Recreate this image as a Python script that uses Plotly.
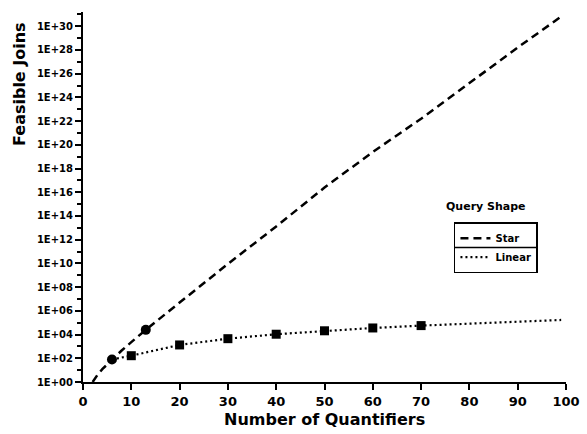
import plotly.graph_objects as go

# Star query shape: curve values
star_x = [2, 3, 4, 6, 8, 10, 13, 20, 30, 40, 50, 60, 70, 80, 90, 99]
star_y = [1, 4, 12, 80, 450, 2300, 2.5e4, 5.0e6, 9.0e9, 1.3e13, 2.5e16, 2.5e19,
          1.6e22, 1.6e25, 1.6e28, 6.5e30]
star_mx = [6, 13]
star_my = [80, 2.5e4]

# Linear query shape
lin_x = [6, 10, 20, 30, 40, 50, 60, 70, 80, 90, 99]
lin_y = [80, 165, 1330, 4500, 10700, 20800, 36000, 57000, 85000, 121000, 170000]
lin_mx = [10, 20, 30, 40, 50, 60, 70]
lin_my = [165, 1330, 4500, 10700, 20800, 36000, 57000]

x_ticks = [0, 10, 20, 30, 40, 50, 60, 70, 80, 90, 100]
y_tickvals = [10.0 ** e for e in range(0, 31, 2)]
y_ticktext = ["1E+%02d" % e for e in range(0, 31, 2)]
y_minorvals = [10.0 ** e for e in range(1, 32, 2)]

FONT = "DejaVu Sans"

fig = go.Figure()
fig.add_trace(go.Scatter(x=star_x, y=star_y, mode="lines", name="Star",
                         line=dict(color="black", width=2.5, dash="8px,5px")))
fig.add_trace(go.Scatter(x=lin_x, y=lin_y, mode="lines", name="Linear",
                         line=dict(color="black", width=2.2, dash="2px,3px")))
fig.add_trace(go.Scatter(x=star_mx, y=star_my, mode="markers", showlegend=False,
                         marker=dict(color="black", size=10, symbol="circle")))
fig.add_trace(go.Scatter(x=lin_mx, y=lin_my, mode="markers", showlegend=False,
                         marker=dict(color="black", size=9, symbol="square")))

fig.update_layout(
    width=587, height=434,
    margin=dict(l=83, r=21, t=12, b=52),
    paper_bgcolor="white", plot_bgcolor="white",
    font=dict(family=FONT, color="black"),
    showlegend=True,
    legend=dict(x=0.768, y=0.432, xanchor="left", yanchor="top",
                bordercolor="black", borderwidth=1.5, bgcolor="rgba(0,0,0,0)",
                font=dict(size=10, family=FONT, weight="bold"),
                tracegroupgap=0, itemwidth=30),
    shapes=[dict(type="line", xref="paper", yref="paper",
                 x0=(454 - 83) / 483, x1=(537 - 83) / 483,
                 y0=(382 - 247.5) / 370, y1=(382 - 247.5) / 370,
                 line=dict(color="black", width=1.5), layer="above")],
    annotations=[
        dict(text="Query Shape", x=(486 - 83) / 483, y=(382 - 207) / 370,
             xref="paper", yref="paper",
             showarrow=False, font=dict(size=11, family=FONT, weight="bold"),
             xanchor="center", yanchor="middle"),
        dict(text="Number of Quantifiers", x=(324 - 83) / 483, y=(382 - 419) / 370,
             xref="paper", yref="paper", showarrow=False,
             font=dict(size=16, family=FONT, weight="bold"),
             xanchor="center", yanchor="middle"),
        dict(text="Feasible Joins", x=(19 - 83) / 483, y=(382 - 84) / 370,
             xref="paper", yref="paper", showarrow=False, textangle=-90,
             font=dict(size=16, family=FONT, weight="bold"),
             xanchor="center", yanchor="middle"),
    ],
)
fig.update_xaxes(range=[0, 100], tickvals=x_ticks, showgrid=False, zeroline=False,
                 automargin=False,
                 showline=True, linecolor="black", linewidth=2,
                 ticks="outside", ticklen=6, tickwidth=2, tickcolor="black",
                 tickfont=dict(size=13, family=FONT, weight="bold"))
fig.update_yaxes(type="log", range=[0, 31.2], tickvals=y_tickvals, ticktext=y_ticktext,
                 showgrid=False, zeroline=False, automargin=False,
                 showline=True, linecolor="black", linewidth=2,
                 ticks="outside", ticklen=6, tickwidth=2, tickcolor="black",
                 minor=dict(tickvals=y_minorvals, ticks="outside",
                            ticklen=4, tickwidth=1.5, tickcolor="black"),
                 tickfont=dict(size=10, family=FONT, weight="bold"))

fig.write_html("out.html", config={"displayModeBar": False},
               post_script="document.body.style.margin='0px';")
